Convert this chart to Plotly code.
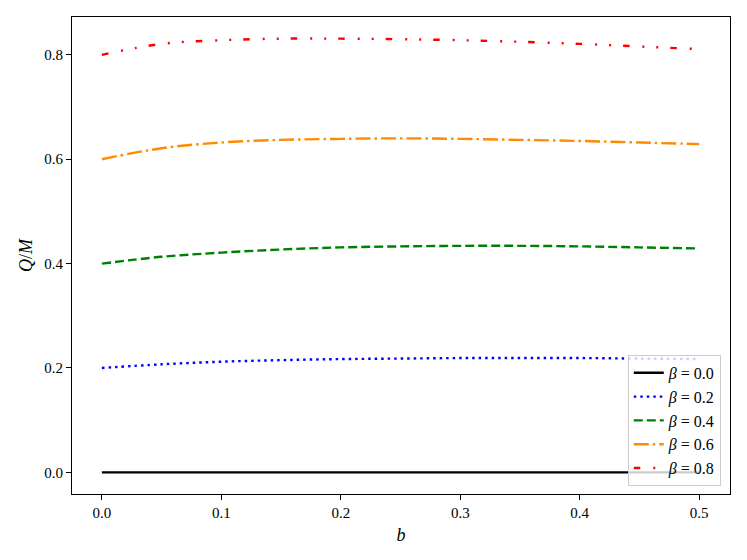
import plotly.graph_objects as go

b = [0.0, 0.05, 0.1, 0.15, 0.2, 0.25, 0.3, 0.35, 0.4, 0.45, 0.5]

q_beta_00 = [0.0, 0.0, 0.0, 0.0, 0.0, 0.0, 0.0, 0.0, 0.0, 0.0, 0.0]
q_beta_02 = [0.200, 0.207, 0.212, 0.215, 0.217, 0.218, 0.219, 0.219, 0.219, 0.218, 0.217]
q_beta_04 = [0.400, 0.413, 0.421, 0.427, 0.431, 0.433, 0.434, 0.434, 0.433, 0.431, 0.429]
q_beta_06 = [0.600, 0.621, 0.632, 0.637, 0.639, 0.640, 0.639, 0.637, 0.635, 0.632, 0.629]
q_beta_08 = [0.800, 0.821, 0.828, 0.831, 0.831, 0.830, 0.828, 0.825, 0.821, 0.816, 0.811]

series = [
    ("<i>β</i> = 0.0", q_beta_00, "black", "solid"),
    ("<i>β</i> = 0.2", q_beta_02, "blue", "2.5px,4px"),
    ("<i>β</i> = 0.4", q_beta_04, "green", "9px,4px"),
    ("<i>β</i> = 0.6", q_beta_06, "darkorange", "15px,4px,2.5px,4px"),
    ("<i>β</i> = 0.8", q_beta_08, "red", "6.5px,13px,2px,12px,2px,12px"),
]

fig = go.Figure()
for name, ys, color, dash in series:
    fig.add_trace(go.Scatter(x=b, y=ys, mode="lines", name=name,
                             line=dict(color=color, width=2.4, dash=dash, shape="spline")))

axis_style = dict(showline=True, linecolor="black", linewidth=1, mirror=True,
                  ticks="outside", ticklen=5, tickcolor="black", showgrid=False,
                  zeroline=False, automargin=False, tickfont=dict(size=15, color="black"))

fig.update_layout(
    width=747, height=560,
    margin=dict(l=72, r=17, t=17, b=66),
    plot_bgcolor="white", paper_bgcolor="white",
    font=dict(family="Liberation Serif", size=15, color="black"),
    xaxis=dict(range=[-0.025, 0.5258], tickvals=[0.0, 0.1, 0.2, 0.3, 0.4, 0.5],
               ticktext=["0.0", "0.1", "0.2", "0.3", "0.4", "0.5"],
               title=dict(text="<i>b</i>", standoff=8), **axis_style),
    yaxis=dict(range=[-0.0415, 0.8725], tickvals=[0.0, 0.2, 0.4, 0.6, 0.8],
               ticktext=["0.0", "0.2", "0.4", "0.6", "0.8"],
               title=dict(text="<i>Q</i>/<i>M</i>", standoff=6), **axis_style),
    legend=dict(x=0.986, y=0.017, xanchor="right", yanchor="bottom",
                bgcolor="rgba(255,255,255,0.8)", bordercolor="#cccccc", borderwidth=1,
                font=dict(size=16)),
    showlegend=True,
)

fig.write_html("out.html", config={"displayModeBar": False},
               post_script="document.body.style.margin='0';document.body.style.overflow='hidden';")
